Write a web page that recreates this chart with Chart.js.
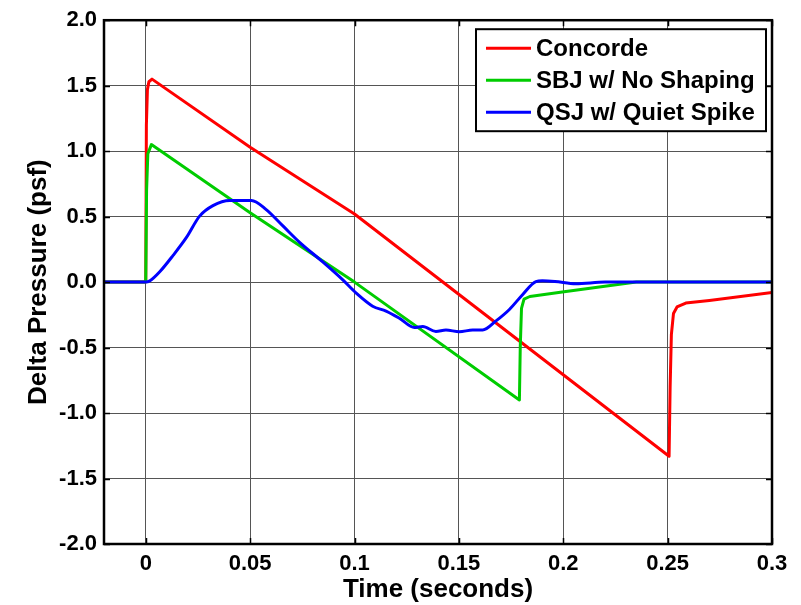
<!DOCTYPE html>
<html>
<head>
<meta charset="utf-8">
<script src="https://cdn.jsdelivr.net/npm/chart.js@4/dist/chart.umd.min.js"></script>
<style>
html,body{margin:0;padding:0;background:#fff;}
#wrap{width:801px;height:605px;}
</style>
</head>
<body>
<div id="wrap"><canvas id="c" width="801" height="605"></canvas></div>
<script>
// ---- data ----
const seriesNames = ["Concorde", "SBJ w/ No Shaping", "QSJ w/ Quiet Spike"];

const tConcorde = [-0.02, 0, 0.0003, 0.0008, 0.0015, 0.003, 0.05, 0.1, 0.2507, 0.2512, 0.2518, 0.2528, 0.2545, 0.2587, 0.27, 0.3];
const pConcorde = [0, 0, 1.2, 1.47, 1.53, 1.55, 1.03, 0.52, -1.33, -0.8, -0.4, -0.24, -0.19, -0.16, -0.14, -0.08];

const tSBJ = [-0.02, 0, 0.0004, 0.001, 0.0027, 0.05, 0.1, 0.179, 0.1794, 0.18, 0.1812, 0.184, 0.1995, 0.235, 0.3];
const pSBJ = [0, 0, 0.7, 0.98, 1.05, 0.53, 0.0, -0.9, -0.5, -0.2, -0.13, -0.11, -0.076, 0, 0];

const tQSJ = [-0.02, 0, 0.002, 0.0067, 0.0131, 0.0195, 0.0258, 0.0322, 0.0402, 0.0506, 0.0577, 0.0657, 0.0737, 0.0848, 0.0944, 0.1008, 0.1087, 0.1151, 0.1215, 0.1287, 0.1327, 0.139, 0.1438, 0.1502, 0.1566, 0.1614, 0.1678, 0.1742, 0.1805, 0.1869, 0.19, 0.196, 0.206, 0.22, 0.3];
const pQSJ = [0, 0, 0.01, 0.079, 0.204, 0.341, 0.504, 0.584, 0.624, 0.624, 0.554, 0.429, 0.304, 0.154, 0.017, -0.084, -0.184, -0.221, -0.276, -0.347, -0.339, -0.377, -0.366, -0.379, -0.366, -0.366, -0.296, -0.209, -0.096, 0.004, 0.01, 0.005, -0.012, 0, 0];

const xTicks = [0, 0.05, 0.1, 0.15, 0.2, 0.25, 0.3];
const yTicks = [-2, -1.5, -1, -0.5, 0, 0.5, 1, 1.5, 2];
const xTitle = "Time (seconds)";
const yTitle = "Delta Pressure (psf)";

// ---- build ----
const pts = (t, p) => t.map((v, i) => ({x: v, y: p[i]}));
const FONT = "'Liberation Sans', Arial, sans-serif";

const boxPlugin = {
  id: 'box',
  afterDatasetsDraw(chart) {
    const {ctx, chartArea: a, scales: {x, y}} = chart;
    ctx.save();
    // inward tick marks
    ctx.strokeStyle = '#000';
    ctx.lineWidth = 1.5;
    const L = 6;
    ctx.beginPath();
    xTicks.forEach(v => {
      const px = Math.round(x.getPixelForValue(v)) + 0.5;
      ctx.moveTo(px, a.bottom); ctx.lineTo(px, a.bottom - L);
      ctx.moveTo(px, a.top); ctx.lineTo(px, a.top + L);
    });
    yTicks.forEach(v => {
      const py = Math.round(y.getPixelForValue(v)) + 0.5;
      ctx.moveTo(a.left, py); ctx.lineTo(a.left + L, py);
      ctx.moveTo(a.right, py); ctx.lineTo(a.right - L, py);
    });
    ctx.stroke();
    // axes box
    ctx.lineWidth = 2.5;
    ctx.strokeRect(a.left, a.top, a.right - a.left, a.bottom - a.top);
    ctx.restore();
  },
  afterDraw(chart) {
    // legend box inside the axes (top-right)
    const {ctx, chartArea: a} = chart;
    const w = 290, h = 102;
    const bx = a.right - 6 - w, by = a.top + 9;
    ctx.save();
    ctx.fillStyle = '#fff';
    ctx.fillRect(bx, by, w, h);
    ctx.strokeStyle = '#000';
    ctx.lineWidth = 2;
    ctx.strokeRect(bx, by, w, h);
    ctx.font = "bold 24px " + FONT;
    ctx.textBaseline = 'middle';
    ctx.textAlign = 'left';
    chart.data.datasets.forEach((ds, i) => {
      const cy = by + 19 + i * 32;
      ctx.strokeStyle = ds.borderColor;
      ctx.lineWidth = 3;
      ctx.beginPath();
      ctx.moveTo(bx + 10, cy); ctx.lineTo(bx + 55, cy);
      ctx.stroke();
      ctx.fillStyle = '#000';
      ctx.fillText(ds.label, bx + 60, cy + 1);
    });
    ctx.restore();
  }
};

new Chart(document.getElementById('c'), {
  type: 'line',
  data: {
    datasets: [
      {label: seriesNames[0], data: pts(tConcorde, pConcorde), borderColor: '#ff0000', order: 2},
      {label: seriesNames[1], data: pts(tSBJ, pSBJ), borderColor: '#00cc00', order: 1},
      {label: seriesNames[2], data: pts(tQSJ, pQSJ), borderColor: '#0000ff', order: 0, cubicInterpolationMode: 'monotone'}
    ]
  },
  options: {
    responsive: false,
    animation: false,
    devicePixelRatio: 1,
    layout: {padding: {top: 14, right: 29, left: 0, bottom: 0}},
    elements: {
      line: {borderWidth: 3, tension: 0, fill: false, borderJoinStyle: 'round', borderCapStyle: 'round'},
      point: {radius: 0}
    },
    plugins: {legend: {display: false}, tooltip: {enabled: false}},
    scales: {
      x: {
        type: 'linear', min: -0.02, max: 0.3,
        afterBuildTicks: s => { s.ticks = xTicks.map(v => ({value: v})); },
        afterFit: s => { s.height = 61; },
        grid: {color: '#555', lineWidth: 1, drawTicks: false},
        border: {display: false},
        ticks: {
          padding: 7, color: '#000', maxRotation: 0,
          font: {family: FONT, size: 22, weight: 'bold'},
          callback: v => String(v)
        },
        title: {display: true, text: xTitle, color: '#000',
          font: {family: FONT, size: 26, weight: 'bold'}, padding: {top: 0, bottom: 0}}
      },
      y: {
        type: 'linear', min: -2, max: 2,
        afterBuildTicks: s => { s.ticks = yTicks.map(v => ({value: v})); },
        afterFit: s => { s.width = 104; },
        grid: {color: '#555', lineWidth: 1, drawTicks: false},
        border: {display: false},
        ticks: {
          padding: 7, color: '#000',
          font: {family: FONT, size: 22, weight: 'bold'},
          callback: v => Number(v).toFixed(1)
        },
        title: {display: true, text: yTitle, color: '#000',
          font: {family: FONT, size: 26, weight: 'bold'}, padding: {top: 23, bottom: 0}}
      }
    }
  },
  plugins: [boxPlugin]
});
</script>
</body>
</html>
